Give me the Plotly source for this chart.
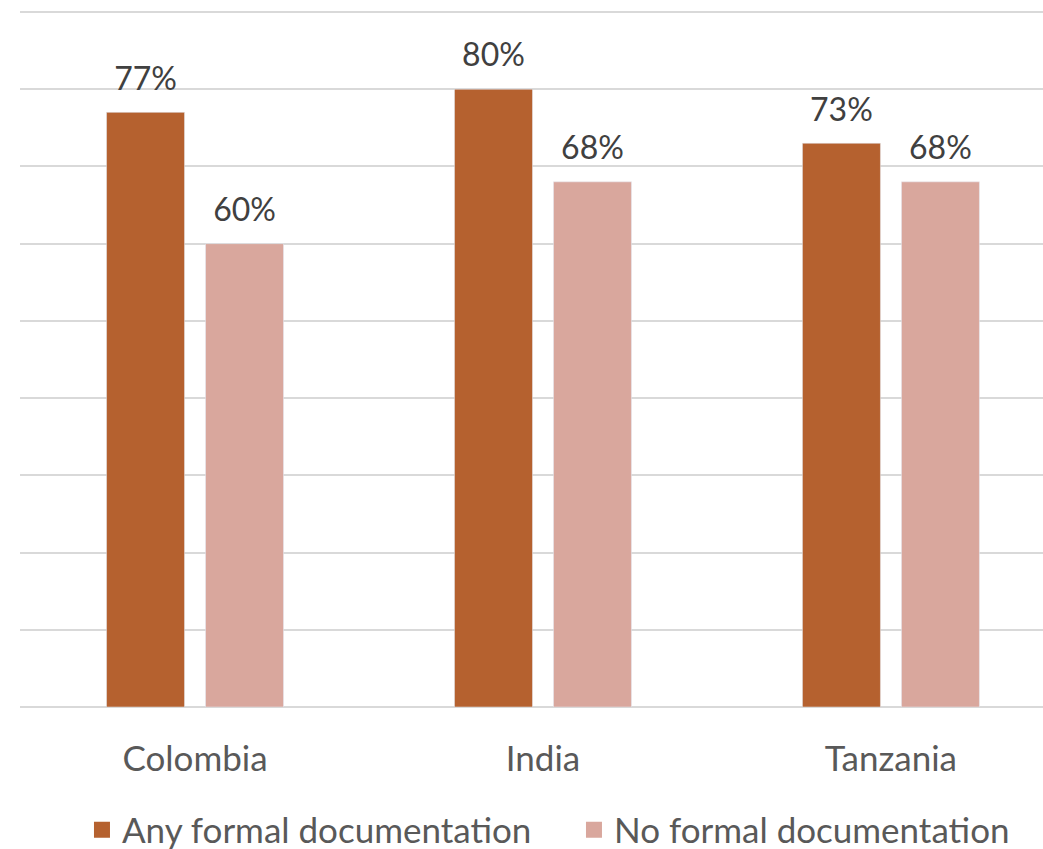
import plotly.graph_objects as go

categories = ["Colombia", "India", "Tanzania"]
any_formal = [77, 80, 73]
no_formal = [60, 68, 68]
series_names = ["Any formal documentation", "No formal documentation"]
colors = ["#B5612F", "#D9A79D"]

FONT = "Lato"
fig = go.Figure()
for name, vals, col, grp in [(series_names[0], any_formal, colors[0], "a"),
                              (series_names[1], no_formal, colors[1], "b")]:
    fig.add_trace(go.Bar(
        x=categories, y=vals, name=name, offsetgroup=grp,
        marker=dict(color=col), showlegend=False, hoverinfo="skip",
    ))
for name, vals, col, grp in [(series_names[0], any_formal, colors[0], "a"),
                              (series_names[1], no_formal, colors[1], "b")]:
    fig.add_trace(go.Scatter(
        x=categories, y=vals, offsetgroup=grp, mode="markers+text",
        marker=dict(size=22, opacity=0, color=col), showlegend=False,
        text=[f"{v}%" for v in vals], textposition="top center",
        textfont=dict(size=32, color="#404040", family=FONT),
        cliponaxis=False, hoverinfo="skip",
    ))
# legend entries
for name, col in zip(series_names, colors):
    fig.add_trace(go.Scatter(
        x=[None], y=[None], mode="markers", name=name,
        marker=dict(symbol="square", size=21, color=col),
    ))

fig.update_layout(
    width=1043, height=849,
    margin=dict(l=20, r=0, t=0, b=142),
    paper_bgcolor="white", plot_bgcolor="white",
    barmode="group", bargap=0.431, bargroupgap=0.212,
    scattermode="group", scattergap=0.431,
    font=dict(family=FONT, color="#595959"),
    showlegend=True,
    legend=dict(orientation="h", xref="container", yref="container",
                x=0.0786, xanchor="left", y=0.0224, yanchor="middle",
                font=dict(size=35, color="#595959", family=FONT),
                itemwidth=30, entrywidth=447, traceorder="normal", itemsizing="trace"),
    xaxis=dict(range=[-0.503, 2.437], showgrid=False, showline=False, ticks="",
               tickfont=dict(size=35, color="#595959", family=FONT)),
    yaxis=dict(range=[0, 91.55], dtick=10, showgrid=True, gridcolor="#D9D9D9", gridwidth=1.5,
               showticklabels=False, zeroline=True, zerolinecolor="#D9D9D9", zerolinewidth=1.5,
               fixedrange=True),
)
fig.update_xaxes(ticklabelstandoff=28)
fig.write_html("out.html", config={"displayModeBar": False},
               post_script="document.body.style.margin='0';document.body.style.overflow='hidden';")
